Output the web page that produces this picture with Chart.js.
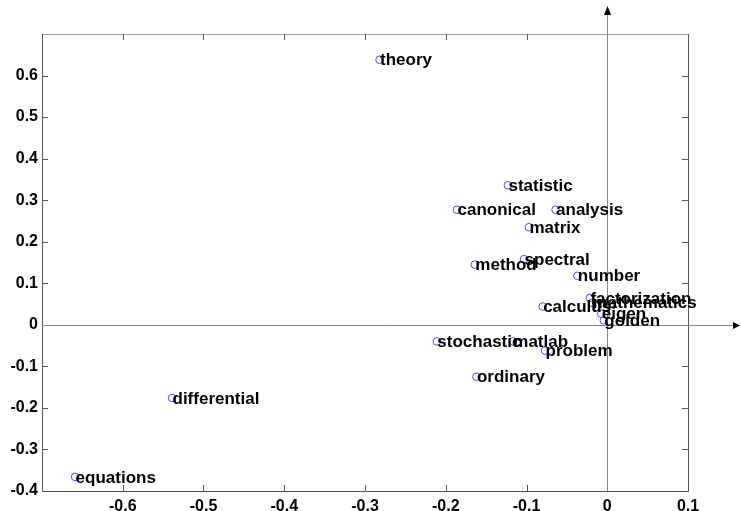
<!DOCTYPE html>
<html>
<head>
<meta charset="utf-8">
<script src="https://cdn.jsdelivr.net/npm/chart.js@4/dist/chart.umd.min.js"></script>
<style>
  html, body { margin: 0; padding: 0; background: #ffffff; }
  #wrap { width: 741px; height: 511px; }
</style>
</head>
<body>
<div id="wrap"><canvas id="c" width="741" height="511"></canvas></div>
<script>
// Term positions in the first two latent dimensions
const terms = ['theory', 'statistic', 'canonical', 'analysis', 'matrix', 'method', 'spectral',
  'number', 'factorization', 'mathematics', 'calculus', 'eigen', 'golden',
  'stochastic', 'matlab', 'problem', 'ordinary', 'differential', 'equations'];
const dim1 = [-0.282, -0.123, -0.186, -0.064, -0.097, -0.164, -0.103,
  -0.037, -0.0215, -0.0186, -0.080, -0.0074, -0.0042,
  -0.211, -0.117, -0.077, -0.162, -0.539, -0.659];
const dim2 = [0.638, 0.336, 0.277, 0.277, 0.235, 0.145, 0.158,
  0.118, 0.065, 0.053, 0.044, 0.0266, 0.0107,
  -0.040, -0.040, -0.062, -0.125, -0.176, -0.366];

const xTicks = [-0.7, -0.6, -0.5, -0.4, -0.3, -0.2, -0.1, 0, 0.1];
const yTicks = [-0.4, -0.3, -0.2, -0.1, 0, 0.1, 0.2, 0.3, 0.4, 0.5, 0.6, 0.7];

const FONT = "'Liberation Sans', Arial, Helvetica, sans-serif";
const fmt = v => String(Number(v.toFixed(1)));

// Box with inward ticks, origin axes with arrowheads, and term labels
const framePlugin = {
  id: 'frame',
  beforeDatasetsDraw(chart) {
    const { ctx, chartArea: a } = chart;
    const xs = chart.scales.x, ys = chart.scales.y;
    const L = a.left, R = a.right, T = a.top, B = a.bottom;
    const tl = 6;
    ctx.save();
    ctx.lineWidth = 1;
    // box
    ctx.strokeStyle = '#999999';
    ctx.beginPath(); ctx.moveTo(L, T + 0.5); ctx.lineTo(R, T + 0.5); ctx.stroke();
    ctx.strokeStyle = '#555555';
    ctx.beginPath();
    ctx.moveTo(L + 0.5, T); ctx.lineTo(L + 0.5, B + 0.5);
    ctx.lineTo(R + 0.5, B + 0.5); ctx.lineTo(R + 0.5, T);
    ctx.stroke();
    // inward ticks
    ctx.beginPath();
    xTicks.forEach(v => {
      const px = Math.round(xs.getPixelForValue(v)) + 0.5;
      if (px <= L + 1 || px >= R - 1) return;
      ctx.moveTo(px, B); ctx.lineTo(px, B - tl);
      ctx.moveTo(px, T); ctx.lineTo(px, T + tl);
    });
    yTicks.forEach(v => {
      const py = Math.round(ys.getPixelForValue(v)) + 0.5;
      if (py <= T + 1 || py >= B - 1) return;
      ctx.moveTo(L, py); ctx.lineTo(L + tl, py);
      ctx.moveTo(R, py); ctx.lineTo(R - tl, py);
    });
    ctx.stroke();
    // axes through the origin
    const x0 = Math.round(xs.getPixelForValue(0)) + 0.5;
    const y0 = Math.round(ys.getPixelForValue(0)) + 0.5;
    const W = chart.width;
    ctx.strokeStyle = '#888888';
    ctx.beginPath();
    ctx.moveTo(L, y0); ctx.lineTo(W - 4, y0);
    ctx.moveTo(x0, B); ctx.lineTo(x0, 12);
    ctx.stroke();
    ctx.fillStyle = '#000000';
    ctx.beginPath();
    ctx.moveTo(W - 1, y0); ctx.lineTo(W - 8, y0 - 3.5); ctx.lineTo(W - 8, y0 + 3.5); ctx.closePath();
    ctx.fill();
    ctx.beginPath();
    ctx.moveTo(x0, 6); ctx.lineTo(x0 - 3.5, 15); ctx.lineTo(x0 + 3.5, 15); ctx.closePath();
    ctx.fill();
    ctx.restore();
  },
  afterDatasetsDraw(chart) {
    const { ctx } = chart;
    const meta = chart.getDatasetMeta(0);
    ctx.save();
    ctx.fillStyle = '#000000';
    ctx.font = 'bold 17px ' + FONT;
    ctx.textAlign = 'left';
    ctx.textBaseline = 'middle';
    meta.data.forEach((pt, i) => {
      ctx.fillText(terms[i], pt.x + 0.5, pt.y + 1);
    });
    ctx.restore();
  }
};

new Chart(document.getElementById('c'), {
  type: 'scatter',
  data: {
    datasets: [{
      data: dim1.map((x, i) => ({ x, y: dim2[i] })),
      pointStyle: 'circle',
      pointRadius: 3.8,
      pointBorderWidth: 1,
      borderColor: '#4a4aff',
      backgroundColor: 'rgba(0,0,0,0)'
    }]
  },
  options: {
    responsive: false,
    animation: false,
    events: [],
    layout: { padding: { left: 0, top: 34, right: 53, bottom: 0 } },
    plugins: { legend: { display: false }, tooltip: { enabled: false } },
    scales: {
      x: {
        type: 'linear', min: -0.7, max: 0.1,
        afterBuildTicks: s => { s.ticks = xTicks.map(v => ({ value: v })); },
        afterFit: s => { s.height = 20; },
        grid: { display: false, drawTicks: false },
        border: { display: false },
        ticks: {
          padding: 6, color: '#000000',
          font: { family: FONT, size: 16, weight: 'bold' },
          autoSkip: false, maxRotation: 0,
          callback: v => (v < -0.65 ? '' : fmt(v))
        }
      },
      y: {
        type: 'linear', min: -0.4, max: 0.7,
        afterBuildTicks: s => { s.ticks = yTicks.map(v => ({ value: v })); },
        afterFit: s => { s.width = 42; },
        grid: { display: false, drawTicks: false },
        border: { display: false },
        ticks: {
          padding: 4, color: '#000000',
          font: { family: FONT, size: 16, weight: 'bold' },
          autoSkip: false,
          callback: v => (v > 0.65 ? '' : fmt(v))
        }
      }
    }
  },
  plugins: [framePlugin]
});
</script>
</body>
</html>
